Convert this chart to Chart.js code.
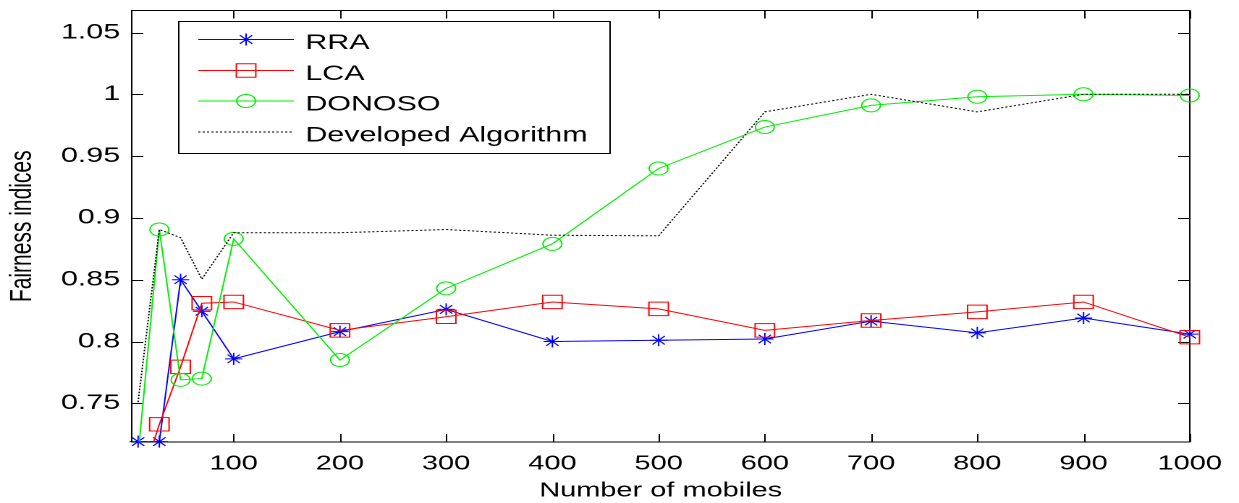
<!DOCTYPE html>
<html>
<head>
<meta charset="utf-8">
<script src="https://cdn.jsdelivr.net/npm/chart.js@4.4.1/dist/chart.umd.min.js"></script>
<style>
  html, body { margin: 0; padding: 0; background: #fff; overflow: hidden; }
  /* the source figure is stretched sideways, so draw narrow and stretch */
  #wrap { position: relative; width: 856px; height: 503px; transform: scaleX(1.4474); transform-origin: 0 0; }
</style>
</head>
<body>
<div id="wrap"><canvas id="fairChart"></canvas></div>
<script>
const mobiles = [10, 30, 50, 70, 100, 200, 300, 400, 500, 600, 700, 800, 900, 1000];
const rra     = [0.719, 0.719, 0.850, 0.8245, 0.786, 0.808, 0.826, 0.800, 0.801, 0.802, 0.8165, 0.807, 0.819, 0.806];
const lca     = [0.680, 0.733, 0.7795, 0.831, 0.832, 0.809, 0.820, 0.832, 0.8264, 0.809, 0.817, 0.824, 0.832, 0.8035];
const donoso  = [0.708, 0.8906, 0.769, 0.770, 0.883, 0.785, 0.843, 0.879, 0.940, 0.9735, 0.991, 0.998, 1.000, 0.999];
const developed = [0.751, 0.8906, 0.884, 0.8505, 0.888, 0.888, 0.8906, 0.886, 0.8855, 0.9858, 1.000, 0.9858, 1.000, 1.000];

const xTicks = [100, 200, 300, 400, 500, 600, 700, 800, 900, 1000];
const yTicks = [0.75, 0.8, 0.85, 0.9, 0.95, 1, 1.05];

const FONT = "'Liberation Sans', Arial, Helvetica, sans-serif";

const seriesInfo = [
    { label: 'RRA', data: rra, color: '#0000ff', marker: 'star', radius: 6, clipBottom: 8 },
    { label: 'LCA', data: lca, color: '#ff0000', marker: 'rect', radius: 9.5, clipBottom: 0 },
    { label: 'DONOSO', data: donoso, color: '#00ee00', marker: 'circle', radius: 6.5, clipBottom: 0 },
    { label: 'Developed Algorithm', data: developed, color: '#000000', marker: null, radius: 0, dash: [1.5, 1.5], clipBottom: 0 }
];

function drawMarker(ctx, style, x, y, r) {
    ctx.beginPath();
    if (style === 'circle') {
        ctx.arc(x, y, r, 0, Math.PI * 2);
    } else if (style === 'rect') {
        const s = r * Math.SQRT1_2;
        ctx.rect(x - s, y - s, 2 * s, 2 * s);
    } else if (style === 'star') {
        const d = r * Math.SQRT1_2;
        ctx.moveTo(x - r, y); ctx.lineTo(x + r, y);
        ctx.moveTo(x, y - r); ctx.lineTo(x, y + r);
        ctx.moveTo(x - d, y - d); ctx.lineTo(x + d, y + d);
        ctx.moveTo(x - d, y + d); ctx.lineTo(x + d, y - d);
    }
    ctx.stroke();
}

// Box round the axes with inward tick marks (matlab look)
const matlabFrame = {
    id: 'matlabFrame',
    beforeDatasetsDraw(chart) {
        const { ctx, chartArea: a, scales } = chart;
        const len = 8;
        ctx.save();
        ctx.strokeStyle = '#000';
        ctx.lineWidth = 1;
        ctx.strokeRect(a.left, a.top, a.right - a.left, a.bottom - a.top);
        ctx.beginPath();
        scales.x.ticks.forEach(t => {
            const px = Math.round(scales.x.getPixelForValue(t.value)) + 0.5;
            ctx.moveTo(px, a.bottom); ctx.lineTo(px, a.bottom - len);
            ctx.moveTo(px, a.top); ctx.lineTo(px, a.top + len);
        });
        scales.y.ticks.forEach(t => {
            const py = Math.round(scales.y.getPixelForValue(t.value)) + 0.5;
            ctx.moveTo(a.left, py); ctx.lineTo(a.left + len, py);
            ctx.moveTo(a.right, py); ctx.lineTo(a.right - len, py);
        });
        ctx.stroke();
        ctx.restore();
    }
};

const boxLegend = {
    id: 'boxLegend',
    afterDraw(chart) {
        const ctx = chart.ctx;
        const box = { left: 123, top: 21, right: 421, bottom: 153 };
        const rows = [39.5, 70.5, 101, 132];
        ctx.save();
        ctx.fillStyle = '#fff';
        ctx.fillRect(box.left, box.top, box.right - box.left, box.bottom - box.top);
        ctx.strokeStyle = '#000';
        ctx.lineWidth = 1;
        ctx.strokeRect(box.left + 0.5, box.top + 0.5, box.right - box.left, box.bottom - box.top);
        seriesInfo.forEach((s, i) => {
            const y = rows[i];
            ctx.strokeStyle = s.color;
            ctx.lineWidth = 1;
            ctx.setLineDash(s.dash || []);
            ctx.beginPath();
            ctx.moveTo(137, y); ctx.lineTo(203, y);
            ctx.stroke();
            ctx.setLineDash([]);
            if (s.marker) drawMarker(ctx, s.marker, 170, y, s.radius);
            ctx.fillStyle = '#000';
            ctx.font = `21px ${FONT}`;
            ctx.textBaseline = 'alphabetic';
            ctx.fillText(s.label, 211, y + 9.5);
        });
        ctx.restore();
    }
};

const datasets = seriesInfo.map((s, i) => ({
    label: s.label,
    data: mobiles.map((m, k) => ({ x: m, y: s.data[k] })),
    borderColor: s.color,
    borderWidth: 1,
    borderDash: s.dash || [],
    pointStyle: s.marker || 'circle',
    pointRadius: s.radius,
    pointBorderColor: s.color,
    pointBorderWidth: 1,
    pointBackgroundColor: 'rgba(0,0,0,0)',
    tension: 0,
    fill: false,
    clip: { left: 8, top: 0, right: 12, bottom: s.clipBottom },
    order: seriesInfo.length - i
}));

new Chart(document.getElementById('fairChart'), {
    type: 'line',
    data: { datasets },
    plugins: [matlabFrame, boxLegend],
    options: {
        responsive: true,
        maintainAspectRatio: false,
        animation: false,
        devicePixelRatio: 2,
        layout: { padding: { top: 7, right: 34, left: 0, bottom: 0 } },
        plugins: { legend: { display: false }, tooltip: { enabled: false } },
        scales: {
            x: {
                type: 'linear',
                min: 4,
                max: 1000,
                afterBuildTicks: s => { s.ticks = xTicks.map(v => ({ value: v })); },
                afterFit: s => { s.height = 61; s.paddingLeft = 0; s.paddingRight = 0; },
                grid: { display: false, drawTicks: false },
                border: { display: false },
                ticks: { color: '#000', font: { family: FONT, size: 20 }, padding: 10, maxRotation: 0, autoSkip: false, callback: v => String(v) },
                title: { display: true, text: 'Number of mobiles', color: '#000', font: { family: FONT, size: 20 }, padding: { top: 0, bottom: 0 } }
            },
            y: {
                type: 'linear',
                min: 0.7187,
                max: 1.0678,
                afterBuildTicks: s => { s.ticks = yTicks.map(v => ({ value: v })); },
                afterFit: s => { s.width = 91; s.paddingTop = 0; s.paddingBottom = 0; },
                grid: { display: false, drawTicks: false },
                border: { display: false },
                ticks: { color: '#000', font: { family: FONT, size: 21 }, padding: 8, callback: v => String(Number(v.toFixed(2))) },
                title: { display: true, text: 'Fairness indices', color: '#000', font: { family: FONT, size: 21 }, padding: { top: 3, bottom: 0 } }
            }
        }
    }
});
</script>
</body>
</html>
